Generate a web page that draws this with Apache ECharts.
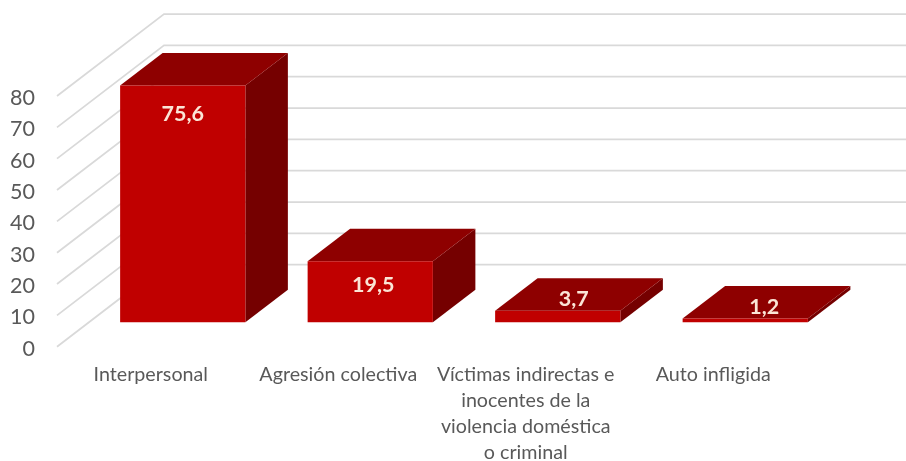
<!DOCTYPE html>
<html>
<head>
<meta charset="utf-8">
<style>html,body{margin:0;padding:0;background:#fff}#c{width:906px;height:461px}</style>
<script src="https://cdn.jsdelivr.net/npm/echarts@6/dist/echarts.min.js"></script>
</head>
<body>
<div id="c"></div>
<script>
var categories = ['Interpersonal', 'Agresión colectiva', 'Víctimas indirectas e\ninocentes de la\nviolencia doméstica\no criminal', 'Auto infligida'];
var values = [75.6, 19.5, 3.7, 1.2];
var valueLabels = ['75,6', '19,5', '3,7', '1,2'];
var yTicks = [0, 10, 20, 30, 40, 50, 60, 70, 80];

// oblique projection of the 3D box, in pixels
var WALL_DX = 107, WALL_DY = -82;
var FLOOR_DX = 32, FLOOR_DY = -24.4;
var BOX_DX = 42.5, BOX_DY = -32.5;
var BAR_RATIO = 0.668;
var labelNudge = [[0, 29], [3, 24], [16, -12], [19, -11.5]];
var FONT = 'Lato, Carlito, "Open Sans", sans-serif';

function renderWall(params, api) {
  var cs = params.coordSys;
  var y = api.coord([0, api.value(1)])[1];
  return {
    type: 'polyline', silent: true,
    shape: { points: [[cs.x, y], [cs.x + WALL_DX, y + WALL_DY], [cs.x + cs.width + WALL_DX, y + WALL_DY]] },
    style: { fill: null, stroke: '#D9D9D9', lineWidth: 1.75 }
  };
}

function renderBar(params, api) {
  var i = api.value(0);
  var top = api.coord([i, api.value(1)]);
  var base = api.coord([i, 0]);
  var w = api.size([1, 0])[0] * BAR_RATIO;
  var x0 = top[0] + FLOOR_DX - w / 2, x1 = x0 + w;
  var yt = top[1] + FLOOR_DY, yb = base[1] + FLOOR_DY;
  var nudge = labelNudge[i];
  return {
    type: 'group',
    children: [
      { type: 'polygon', shape: { points: [[x1, yt], [x1 + BOX_DX, yt + BOX_DY], [x1 + BOX_DX, yb + BOX_DY], [x1, yb]] }, style: { fill: '#750000' } },
      { type: 'polygon', shape: { points: [[x0, yt], [x0 + BOX_DX, yt + BOX_DY], [x1 + BOX_DX, yt + BOX_DY], [x1, yt]] }, style: { fill: '#8E0000' } },
      { type: 'rect', shape: { x: x0, y: yt, width: w, height: yb - yt }, style: { fill: '#C00000' } },
      { type: 'text', style: {
          x: top[0] + FLOOR_DX + nudge[0], y: yt + nudge[1],
          text: valueLabels[i], fill: '#FBE5D6', font: 'bold 21.5px ' + FONT,
          align: 'center', verticalAlign: 'middle'
      } }
    ]
  };
}

var chart = echarts.init(document.getElementById('c'), null, { renderer: 'canvas' });
chart.setOption({
  animation: false,
  backgroundColor: '#fff',
  grid: { left: 57, top: 96, width: 750, height: 250.7, containLabel: false, outerBoundsMode: 'none' },
  xAxis: {
    type: 'category', data: categories,
    axisLine: { show: false }, axisTick: { show: false }, splitLine: { show: false },
    axisLabel: { interval: 0, hideOverlap: false, margin: 15, color: '#595959', fontFamily: FONT, fontSize: 19.7, lineHeight: 26, verticalAlign: 'top' }
  },
  yAxis: {
    type: 'value', min: 0, max: 80, interval: 10,
    axisLine: { show: false }, axisTick: { show: false }, splitLine: { show: false },
    axisLabel: { margin: 22, color: '#595959', fontFamily: FONT, fontSize: 21.5, verticalAlign: 'top', lineHeight: 4 }
  },
  series: [
    { type: 'custom', name: 'wall', silent: true, clip: false, z: 1, encode: { x: 0, y: 1 },
      data: yTicks.map(function (t) { return [0, t]; }), renderItem: renderWall },
    { type: 'custom', name: 'bars', silent: true, clip: false, z: 2, encode: { x: 0, y: 1 },
      data: values.map(function (v, i) { return [i, v]; }), renderItem: renderBar }
  ]
});
</script>
</body>
</html>
